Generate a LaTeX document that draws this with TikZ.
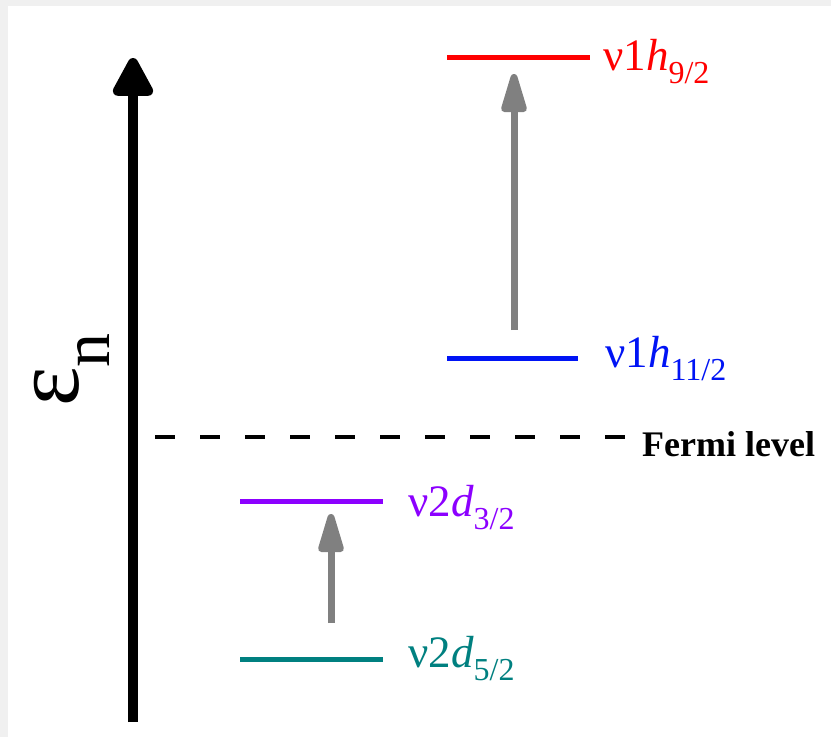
\documentclass[tikz,border=0pt]{standalone}
\usepackage{fontspec}
\setmainfont{Liberation Serif}
\usetikzlibrary{arrows.meta}
\definecolor{lvred}{RGB}{255,0,0}
\definecolor{lvblue}{RGB}{0,20,245}
\definecolor{lvpurple}{RGB}{140,0,255}
\definecolor{lvteal}{RGB}{0,128,128}
\definecolor{arrgray}{RGB}{128,128,128}
\definecolor{framegray}{RGB}{240,240,240}
\tikzset{
  level/.style={line width=5pt},
  trans/.style={draw=arrgray, line width=7pt, -{Triangle[width=26pt,length=48pt,round]}},
  lvlabel/.style={anchor=base west, inner sep=0pt},
}
\newcommand{\lvtext}[3]{{\fontsize{45}{45}\selectfont ν#1\textit{#2}\raisebox{-13pt}{\fontsize{32}{32}\selectfont #3}}}
\begin{document}
\begin{tikzpicture}[x=1pt,y=-1pt]
\useasboundingbox (0,0) rectangle (831,737);
\fill[framegray] (0,0) rectangle (831,737);
\fill[white] (8,6) rectangle (831,737);
% energy axis
\coordinate (axb) at (133,722);
\coordinate (axt) at (133,58);
\draw[line width=10pt, -{Triangle[width=44pt,length=44pt,round]}] (axb) -- (axt);
\node[rotate=90, inner sep=0pt] (eps) at (72,370)
  {\fontsize{94}{94}\selectfont ε\raisebox{-0.33em}{\fontsize{68}{68}\selectfont n}};
% Fermi level
\coordinate (fa) at (155,437);
\coordinate (fb) at (632,437);
\draw[line width=3.5pt, dash pattern=on 20pt off 25pt] (fa) -- (fb);
\node[anchor=west, inner sep=0pt] (fermi) at (642,444) {\fontsize{36}{36}\selectfont\bfseries Fermi level};
% levels
\coordinate (r1) at (447,57); \coordinate (r2) at (590,57);
\coordinate (b1) at (447,358); \coordinate (b2) at (578,358);
\coordinate (p1) at (240,501); \coordinate (p2) at (383,501);
\coordinate (t1) at (240,659); \coordinate (t2) at (383,659);
\draw[level, lvred] (r1) -- (r2);
\draw[level, lvblue] (b1) -- (b2);
\draw[level, lvpurple] (p1) -- (p2);
\draw[level, lvteal] (t1) -- (t2);
\node[lvlabel, text=lvred] (lr) at (603,70) {\lvtext{1}{h}{9/2}};
\node[lvlabel, text=lvblue] (lb) at (605,367) {\lvtext{1}{h}{11/2}};
\node[lvlabel, text=lvpurple] (lp) at (408,516) {\lvtext{2}{d}{3/2}};
\node[lvlabel, text=lvteal] (lt) at (408,667) {\lvtext{2}{d}{5/2}};
% transitions
\coordinate (u1) at (514,330); \coordinate (u2) at (514,74);
\coordinate (d1) at (331,623); \coordinate (d2) at (331,514);
\draw[trans] (u1) -- (u2);
\draw[trans] (d1) -- (d2);
\end{tikzpicture}
\end{document}
